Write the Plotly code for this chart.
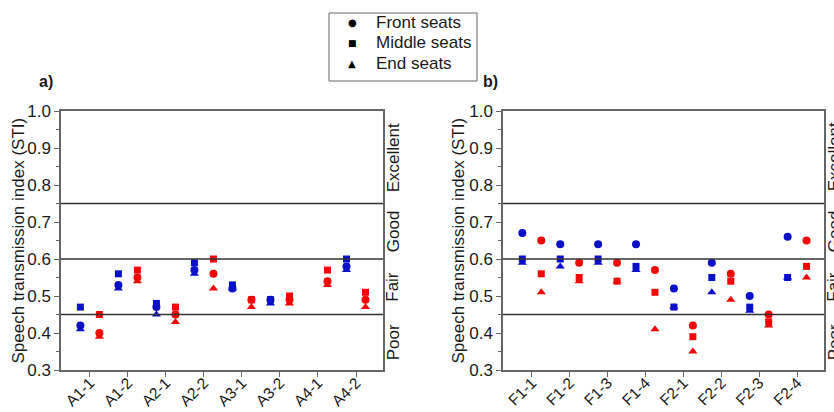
import plotly.graph_objects as go

# ---------------- data ----------------
cats_a = ["A1-1", "A1-2", "A2-1", "A2-2", "A3-1", "A3-2", "A4-1", "A4-2"]
cats_b = ["F1-1", "F1-2", "F1-3", "F1-4", "F2-1", "F2-2", "F2-3", "F2-4"]

# panel a) blue series
a_blue_front = [0.42, 0.53, 0.47, 0.57, 0.52, 0.49, None, 0.58]
a_blue_middle = [0.47, 0.56, 0.48, 0.59, 0.53, 0.49, None, 0.60]
a_blue_end = [0.41, 0.52, 0.45, 0.56, 0.52, 0.48, None, 0.57]
# panel a) red series
a_red_front = [0.40, 0.55, 0.45, 0.56, 0.49, 0.49, 0.54, 0.49]
a_red_middle = [0.45, 0.57, 0.47, 0.60, 0.49, 0.50, 0.57, 0.51]
a_red_end = [0.39, 0.54, 0.43, 0.52, 0.47, 0.48, 0.53, 0.47]

# panel b) blue series
b_blue_front = [0.67, 0.64, 0.64, 0.64, 0.52, 0.59, 0.50, 0.66]
b_blue_middle = [0.60, 0.60, 0.60, 0.58, 0.47, 0.55, 0.47, 0.55]
b_blue_end = [0.59, 0.58, 0.59, 0.57, 0.47, 0.51, 0.46, 0.55]
# panel b) red series
b_red_front = [0.65, 0.59, 0.59, 0.57, 0.42, 0.56, 0.45, 0.65]
b_red_middle = [0.56, 0.55, 0.54, 0.51, 0.39, 0.54, 0.43, 0.58]
b_red_end = [0.51, 0.54, 0.54, 0.41, 0.35, 0.49, 0.42, 0.55]

class_bounds = [0.45, 0.60, 0.75]
class_labels = ["Poor", "Fair", "Good", "Excellent"]
class_centers = [0.375, 0.525, 0.675, 0.875]
y_ticks = [0.3, 0.4, 0.5, 0.6, 0.7, 0.8, 0.9, 1.0]
legend_names = ["Front seats", "Middle seats", "End seats"]
legend_glyphs = ["●", "■", "▲"]

BLUE = "#0a0fc8"
RED = "#f20505"
FONT = "Liberation Sans, Arial, sans-serif"
TXT = "#1a1a1a"
FRAME = "#666666"
W, H = 834, 412

fig = go.Figure()

pos = list(range(1, 9))
OFF = 0.25
symbols = {"front": "circle", "middle": "square", "end": "triangle-up"}
sizes = {"front": 8, "middle": 7, "end": 8}


def add_series(xaxis, yaxis, vals, offset, color, kind):
    xs = [p + offset for p in pos]
    fig.add_trace(go.Scatter(
        x=xs, y=vals, mode="markers", xaxis=xaxis, yaxis=yaxis,
        marker=dict(symbol=symbols[kind], size=sizes[kind], color=color,
                    line=dict(width=0)),
        showlegend=False, hoverinfo="skip"))


for kind, vb, vr in [("middle", a_blue_middle, a_red_middle),
                     ("end", a_blue_end, a_red_end),
                     ("front", a_blue_front, a_red_front)]:
    add_series("x", "y", vb, -OFF, BLUE, kind)
    add_series("x", "y", vr, OFF, RED, kind)

for kind, vb, vr in [("middle", b_blue_middle, b_red_middle),
                     ("end", b_blue_end, b_red_end),
                     ("front", b_blue_front, b_red_front)]:
    add_series("x2", "y2", vb, -OFF, BLUE, kind)
    add_series("x2", "y2", vr, OFF, RED, kind)

dom_a = [61 / W, 383 / W]
dom_b = [503 / W, 824 / W]
dom_y = [(H - 370) / H, (H - 111) / H]

xcommon = dict(range=[0.24, 8.71], tickmode="array", tickvals=pos,
               tickangle=-45, ticks="outside", ticklen=5, tickcolor=FRAME,
               ticklabelstandoff=-9,
               showline=True, linecolor=FRAME, linewidth=1.5, mirror=True,
               showgrid=False, zeroline=False, automargin=False,
               tickfont=dict(family=FONT, size=15.5, color=TXT))
ycommon = dict(range=[0.3, 1.0], tickmode="array", tickvals=y_ticks,
               ticktext=[f"{v:.1f}" for v in y_ticks],
               ticks="outside", ticklen=5, tickcolor=FRAME,
               minor=dict(dtick=0.05, tick0=0.3, ticks="outside", ticklen=3,
                          tickcolor=FRAME, showgrid=False),
               showline=True, linecolor=FRAME, linewidth=1.5, mirror=True,
               showgrid=False, zeroline=False, automargin=False,
               tickfont=dict(family=FONT, size=17, color=TXT))

fig.update_layout(
    width=W, height=H,
    margin=dict(l=0, r=0, t=0, b=0, autoexpand=False),
    paper_bgcolor="white", plot_bgcolor="white",
    xaxis=dict(domain=dom_a, anchor="y", ticktext=cats_a, **xcommon),
    yaxis=dict(domain=dom_y, anchor="x", **ycommon),
    xaxis2=dict(domain=dom_b, anchor="y2", ticktext=cats_b, **xcommon),
    yaxis2=dict(domain=dom_y, anchor="x2", **ycommon),
    showlegend=False,
)

# class boundary lines
for xr in ["x", "x2"]:
    for b in class_bounds:
        fig.add_shape(type="line", xref=f"{xr} domain", yref=xr.replace("x", "y"),
                      x0=0, x1=1, y0=b, y1=b,
                      line=dict(color="#333333", width=1.5))

# class labels to the right of each panel
for dom, yref in [(dom_a, "y"), (dom_b, "y2")]:
    for lab, c in zip(class_labels, class_centers):
        fig.add_annotation(x=dom[1] + 10 / W, y=c, xref="paper", yref=yref,
                           text=lab, textangle=-90, showarrow=False,
                           xanchor="center", yanchor="middle",
                           font=dict(family=FONT, size=17, color=TXT))

# y axis titles
for xpix in [18, 458]:
    fig.add_annotation(x=xpix / W, y=(dom_y[0] + dom_y[1]) / 2, xref="paper", yref="paper",
                       text="Speech transmission index (STI)", textangle=-90,
                       showarrow=False, xanchor="center", yanchor="middle",
                       font=dict(family=FONT, size=17, color=TXT))

# panel labels
for xpix, lab in [(46, "a)"), (490, "b)")]:
    fig.add_annotation(x=xpix / W, y=1 - 81 / H, xref="paper", yref="paper",
                       text=f"<b>{lab}</b>", showarrow=False,
                       xanchor="center", yanchor="middle",
                       font=dict(family=FONT, size=16, color=TXT))

# legend (box + glyph + text)
fig.add_shape(type="rect", xref="paper", yref="paper",
              x0=329 / W, x1=477 / W, y0=1 - 81 / H, y1=1 - 13 / H,
              line=dict(color=FRAME, width=1), fillcolor="white", layer="above")
glyph_sizes = [10, 9, 10]
for i, (name, g) in enumerate(zip(legend_names, legend_glyphs)):
    ypix = 23 + 20 * i
    fig.add_annotation(x=352 / W, y=1 - ypix / H, xref="paper", yref="paper",
                       text=g, showarrow=False, xanchor="center", yanchor="middle",
                       font=dict(family="DejaVu Sans", size=glyph_sizes[i], color="black"))
    fig.add_annotation(x=374 / W, y=1 - ypix / H, xref="paper", yref="paper",
                       text=name, showarrow=False, xanchor="left", yanchor="middle",
                       font=dict(family=FONT, size=17, color=TXT))

fig.write_html("out.html")
